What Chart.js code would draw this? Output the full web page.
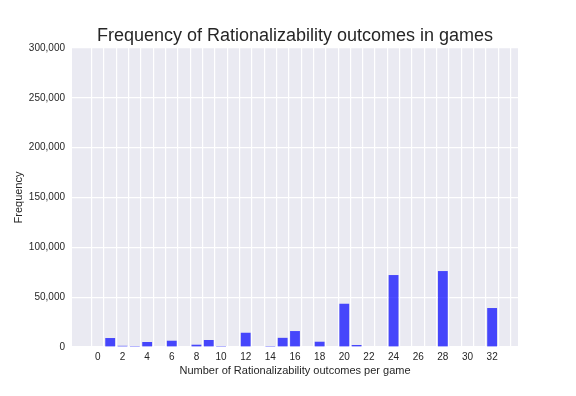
<!DOCTYPE html>
<html>
<head>
<meta charset="utf-8">
<script src="https://cdn.jsdelivr.net/npm/chart.js"></script>
<style>
    html, body { margin: 0; padding: 0; background: #ffffff; }
    #freqChart { display: block; }
</style>
</head>
<body>
<canvas id="freqChart" width="576" height="396"></canvas>
<script>
// Number of rationalizability outcomes per game (bin centres)
const outcomes = [0, 1, 2, 3, 4, 5, 6, 7, 8, 9, 10, 11, 12, 13, 14, 15, 16,
                  17, 18, 19, 20, 21, 22, 23, 24, 25, 26, 27, 28, 29, 30, 31, 32];
// Frequency of each outcome count
const frequencies = [0, 9000, 1200, 1000, 5000, 0, 6300, 0, 2300, 7000, 1000, 0, 14300, 0, 1000, 9200, 16000,
                     0, 5300, 0, 43400, 2000, 0, 0, 72200, 0, 0, 0, 76200, 0, 0, 0, 39100];
// Grid lines on x and the labelled ticks
const xGridTicks = [0, 1, 2, 3, 4, 5, 6, 7, 8, 9, 10, 11, 12, 13, 14, 15, 16,
                    17, 18, 19, 20, 21, 22, 23, 24, 25, 26, 27, 28, 29, 30, 31, 32, 33];
const xLabelTicks = [0, 2, 4, 6, 8, 10, 12, 14, 16, 18, 20, 22, 24, 26, 28, 30, 32];
const yTicks = [0, 50000, 100000, 150000, 200000, 250000, 300000];

const chartTitle = 'Frequency of Rationalizability outcomes in games';
const textColor = '#262626';
const fontFamily = '"Liberation Sans", Arial, sans-serif';

// Paint the seaborn-like grey plot background
const plotBackground = {
    id: 'plotBackground',
    beforeDraw(chart) {
        const { ctx, chartArea } = chart;
        ctx.save();
        ctx.fillStyle = '#eaeaf2';
        ctx.fillRect(chartArea.left, chartArea.top, chartArea.right - chartArea.left, chartArea.bottom - chartArea.top);
        ctx.restore();
    }
};

// Title centred over the plot area (not the whole canvas)
const plotTitle = {
    id: 'plotTitle',
    afterDraw(chart) {
        const { ctx, chartArea } = chart;
        ctx.save();
        ctx.fillStyle = textColor;
        ctx.font = '18px ' + fontFamily;
        ctx.textAlign = 'center';
        ctx.textBaseline = 'middle';
        ctx.fillText(chartTitle, (chartArea.left + chartArea.right) / 2, 36);
        ctx.restore();
    }
};

const ctx = document.getElementById('freqChart');

new Chart(ctx, {
    type: 'bar',
    data: {
        datasets: [{
            data: outcomes.map((x, i) => ({ x: x, y: frequencies[i] })),
            backgroundColor: 'rgba(0, 0, 255, 0.7)',
            borderWidth: 0,
            barPercentage: 0.8,
            categoryPercentage: 1.0
        }]
    },
    options: {
        responsive: false,
        animation: false,
        devicePixelRatio: 1,
        layout: {
            padding: { left: 0, right: 58, top: 48, bottom: 0 }
        },
        plugins: {
            legend: { display: false },
            tooltip: { enabled: false },
            title: { display: false }
        },
        scales: {
            x: {
                type: 'linear',
                offset: false,
                min: -2.1,
                max: 34.1,
                afterBuildTicks: (scale) => {
                    scale.ticks = xGridTicks.map(v => ({ value: v }));
                },
                afterFit: (scale) => {
                    scale.height = 49;
                },
                grid: {
                    color: '#ffffff',
                    lineWidth: 1.2,
                    drawTicks: false
                },
                border: { display: false },
                ticks: {
                    autoSkip: false,
                    maxRotation: 0,
                    padding: 4,
                    color: textColor,
                    font: { family: fontFamily, size: 10 },
                    callback: (value) => xLabelTicks.includes(value) ? String(value) : ''
                },
                title: {
                    display: true,
                    text: 'Number of Rationalizability outcomes per game',
                    color: textColor,
                    font: { family: fontFamily, size: 11 },
                    padding: { top: 0, bottom: 18 }
                }
            },
            y: {
                min: 0,
                max: 300000,
                afterBuildTicks: (scale) => {
                    scale.ticks = yTicks.map(v => ({ value: v }));
                },
                afterFit: (scale) => {
                    scale.width = 72;
                },
                grid: {
                    color: '#ffffff',
                    lineWidth: 1.2,
                    drawTicks: false
                },
                border: { display: false },
                ticks: {
                    padding: 7,
                    color: textColor,
                    font: { family: fontFamily, size: 10 },
                    callback: (value) => value.toLocaleString('en-US')
                },
                title: {
                    display: true,
                    text: 'Frequency',
                    color: textColor,
                    font: { family: fontFamily, size: 11 },
                    padding: { top: 12, bottom: 0 }
                }
            }
        }
    },
    plugins: [plotBackground, plotTitle]
});
</script>
</body>
</html>
